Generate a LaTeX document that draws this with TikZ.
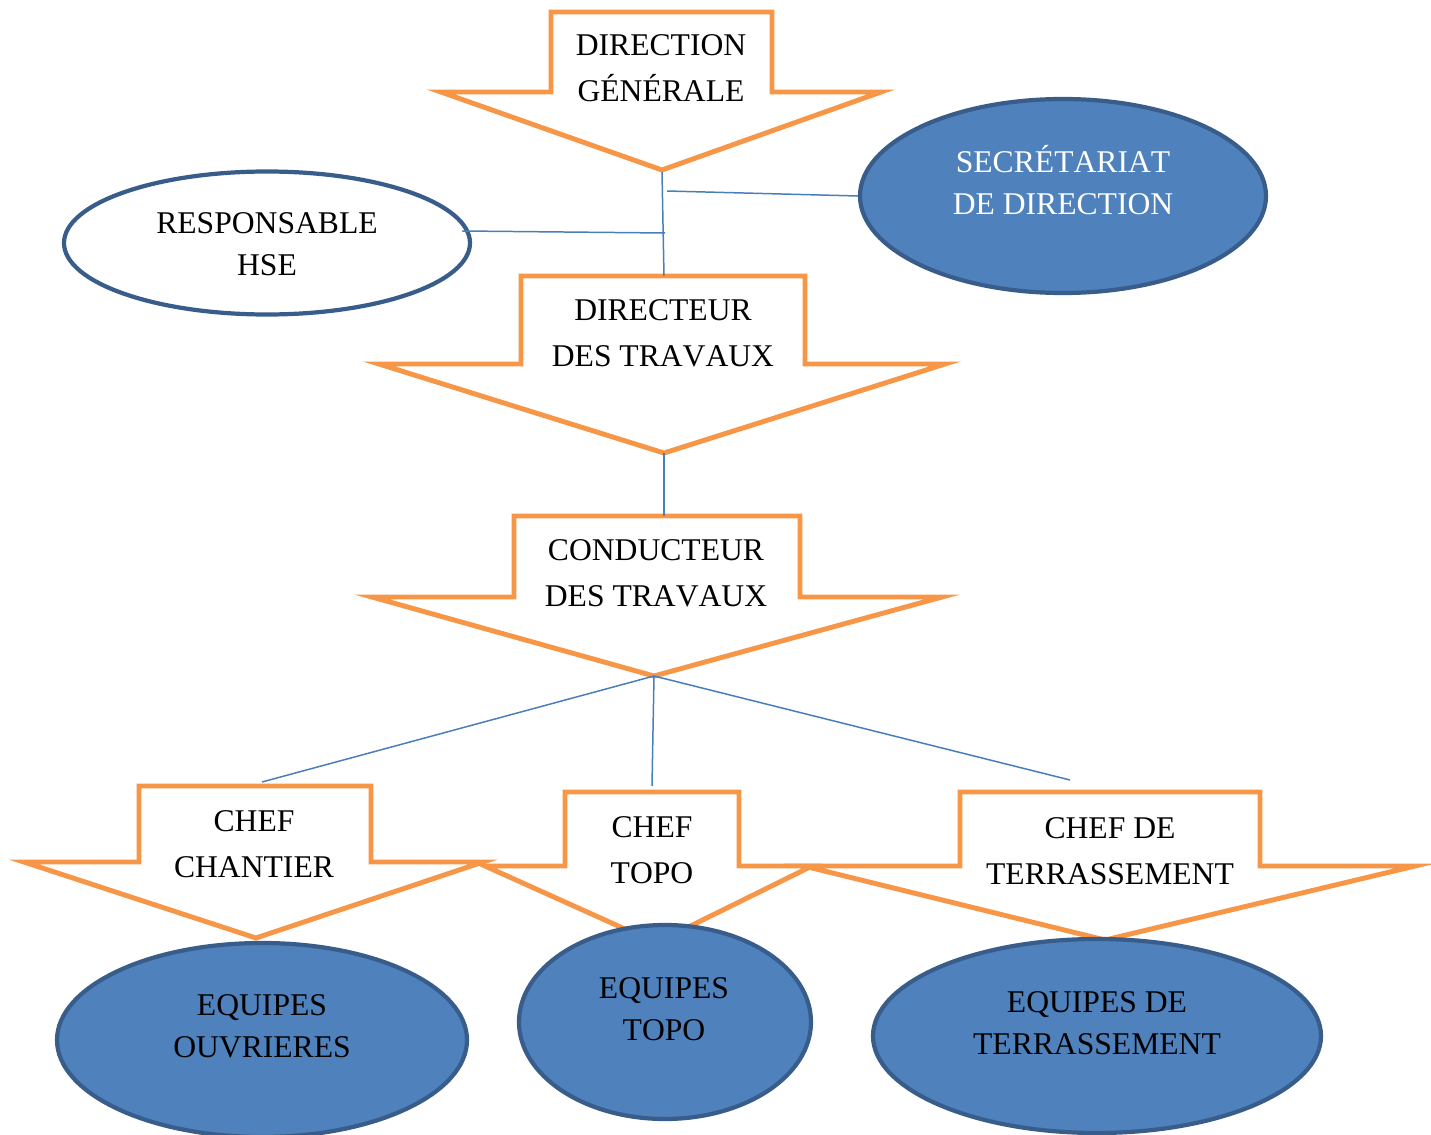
\documentclass[tikz,border=0pt]{standalone}
\usepackage{fontspec}
\setmainfont[Kerning=Off]{Liberation Serif}
\usetikzlibrary{shapes.geometric}
\definecolor{orgorange}{HTML}{F79646}
\definecolor{orgblue}{HTML}{4F81BD}
\definecolor{orgdark}{HTML}{385D8A}
\definecolor{orgline}{HTML}{4A7EBB}
\tikzset{
  arrowbox/.style={draw=orgorange, line width=2.8pt, line join=miter, miter limit=20},
  ellwhite/.style={draw=orgdark, line width=2.4pt, fill=white},
  ellblue/.style={draw=orgdark, line width=2.4pt, fill=orgblue},
  conn/.style={draw=orgline, line width=0.85pt},
  arrowtext/.style={align=center, font=\fontsize{18}{26}\selectfont, inner sep=0pt},
  elltext/.style={align=center, font=\fontsize{18}{24}\selectfont, inner sep=0pt},
}
% #1 shaft left, #2 shaft right, #3 top, #4 shoulder, #5 head left, #6 head right, #7 tip x, #8 tip y
\newcommand\orgarrowshape[8]{%
  \draw[arrowbox] (#1,#3) -- (#2,#3) -- (#2,#4) -- (#6,#4) -- (#7,#8) -- (#5,#4) -- (#1,#4) -- cycle;}
\begin{document}
\begin{tikzpicture}[x=0.02cm, y=-0.02cm]
\useasboundingbox (0,0) rectangle (1431,1135);

% arrows
\orgarrowshape{551}{772}{12}{92}{441}{881}{662}{170}
\orgarrowshape{521}{805}{276}{364}{379}{945}{664}{453}
\orgarrowshape{514}{800}{516}{597}{372}{942}{654}{676}
\orgarrowshape{139}{371}{786}{862}{24}{483}{256}{938}
\orgarrowshape{565}{739}{792}{866}{485}{812}{656}{943}
\orgarrowshape{960}{1260}{792}{866}{804}{1415}{1105}{940}

% anchor coordinates of the arrows
\coordinate (dgtip) at (662,172);
\coordinate (dttop) at (664,276);
\coordinate (dttip) at (664,453);
\coordinate (cttop) at (664,516);
\coordinate (cttip) at (654,676);
\coordinate (chtop) at (262,782);
\coordinate (tptop) at (652,786);
\coordinate (tetop) at (1070,780);
\coordinate (jsec) at (667,191);
\coordinate (jhse) at (665,233);

% ellipses
\node[ellblue, ellipse, minimum width=406*0.02cm, minimum height=194*0.02cm] (sec) at (1063,196) {};
\node[ellwhite, ellipse, minimum width=406*0.02cm, minimum height=143*0.02cm] (hse) at (267,243) {};
\node[ellblue, ellipse, minimum width=410*0.02cm, minimum height=194*0.02cm] (eqo) at (262,1040) {};
\node[ellblue, ellipse, minimum width=292*0.02cm, minimum height=194*0.02cm] (eqt) at (665,1022) {};
\node[ellblue, ellipse, minimum width=448*0.02cm, minimum height=194*0.02cm] (eqr) at (1097,1036) {};

% connectors
\draw[conn] (dgtip) -- (dttop);
\draw[conn] (jsec) -- (sec.west);
\path (hse.east) ++(-10,-12) coordinate (hseend);
\draw[conn] (hseend) -- (jhse);
\draw[conn] (dttip) -- (cttop);
\draw[conn] (cttip) -- (chtop);
\draw[conn] (cttip) -- (tptop);
\draw[conn] (cttip) -- (tetop);

% texts
\node[arrowtext] (tdg) at (661,68) {DIRECTION\\GÉNÉRALE};
\node[arrowtext] (tdt) at (663,333) {DIRECTEUR\\DES TRAVAUX};
\node[arrowtext] (tct) at (656,573) {CONDUCTEUR\\DES TRAVAUX};
\node[arrowtext] (tch) at (254,844) {CHEF\\CHANTIER};
\node[arrowtext] (ttp) at (652,850) {CHEF\\TOPO};
\node[arrowtext] (tte) at (1110,851) {CHEF DE\\TERRASSEMENT};
\node[elltext, text=white] (tsec) at (1063,180) {SECRÉTARIAT\\DE DIRECTION};
\node[elltext] (thse) at (267,244) {RESPONSABLE\\HSE};
\node[elltext] (teqo) at (262,1026) {EQUIPES\\OUVRIERES};
\node[elltext] (teqt) at (664,1009) {EQUIPES\\TOPO};
\node[elltext] (teqr) at (1097,1023) {EQUIPES DE\\TERRASSEMENT};
\end{tikzpicture}
\end{document}
